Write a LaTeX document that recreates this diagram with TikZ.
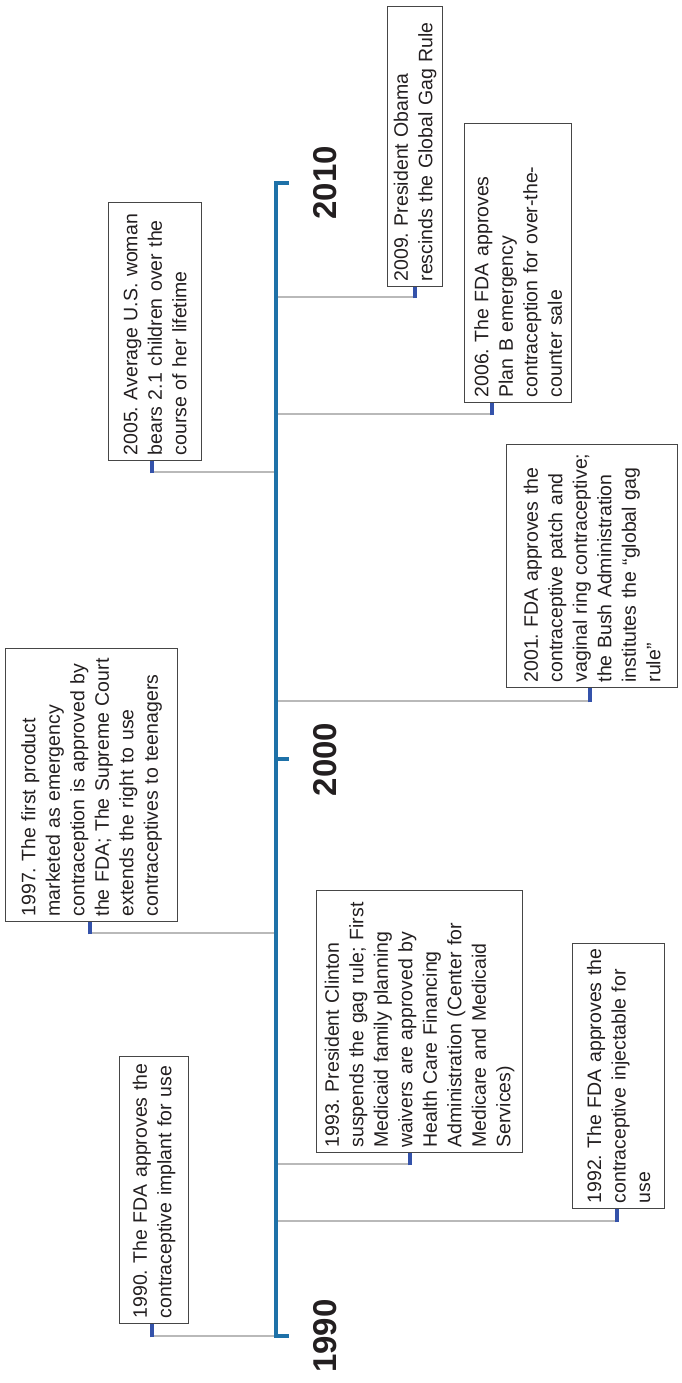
\documentclass[tikz,border=0pt]{standalone}
\usepackage{fontspec}
\setmainfont{Liberation Sans}
\usetikzlibrary{calc}

\definecolor{axisblue}{RGB}{30,113,168}
\definecolor{stemblue}{RGB}{52,82,170}
\definecolor{linkgray}{RGB}{185,185,185}
\definecolor{boxgray}{RGB}{70,70,70}
\definecolor{inkblack}{RGB}{35,31,32}

\tikzset{
	event/.style = {draw = boxgray, line width = 1.2pt, rotate = 90, anchor = north west,
		align = left, inner xsep = 5pt, inner ysep = 2pt, text = inkblack,
		font = \fontsize{19.5}{24.5}\selectfont\frenchspacing},
	link/.style = {draw = linkgray, line width = 2.6pt},
	stem/.style = {draw = stemblue, line width = 4.5pt},
	yearlabel/.style = {rotate = 90, text = inkblack, font = \fontsize{33}{33}\selectfont\bfseries}
}

\begin{document}
\begin{tikzpicture}[x = 1pt, y = 1pt]

	\useasboundingbox (0, 0) rectangle (681, 1383);

	% Event boxes
	
	\node [event, text width = 257pt, minimum height = 69pt] (e1990) at (119, 59)
		{1990. The FDA approves the\\contraceptive implant for use};
	\node [event, text width = 255pt, minimum height = 92pt] (e1992) at (572, 174)
		{1992. The FDA approves the\\contraceptive injectable for\\use};
	\node [event, text width = 252pt, minimum height = 206pt] (e1993) at (316, 230)
		{1993. President Clinton\\suspends the gag rule; First\\Medicaid family planning\\waivers are approved by\\Health Care Financing\\Administration (Center for\\Medicare and Medicaid\\Services)};
	\node [event, text width = 263pt, minimum height = 172pt] (e1997) at (5, 461)
		{1997. The first product\\marketed as emergency\\contraception is approved by\\the FDA; The Supreme Court\\extends the right to use\\contraceptives to teenagers};
	\node [event, text width = 233pt, minimum height = 171pt] (e2001) at (506, 695)
		{2001. FDA approves the\\contraceptive patch and\\vaginal ring contraceptive;\\the Bush Administration\\institutes the “global gag\\rule”};
	\node [event, text width = 248pt, minimum height = 93pt] (e2005) at (108, 922)
		{2005. Average U.S. woman\\bears 2.1 children over the\\course of her lifetime};
	\node [event, text width = 269pt, minimum height = 107pt] (e2006) at (464, 980)
		{2006. The FDA approves\\Plan B emergency\\contraception for over-the-\\counter sale};
	\node [event, text width = 270pt, minimum height = 55pt] (e2009) at (387, 1096)
		{2009. President Obama\\rescinds the Global Gag Rule};
	
	% Connectors from the axis to the boxes
	
	\foreach \ev/\fx/\ey in {1990/152/47, 1992/617/162, 1993/410/219, 1997/90/450,
			2001/590/682, 2005/152/911, 2006/492/969, 2009/415/1086} {
		\coordinate (ax\ev) at (276, \ey);
		\coordinate (ft\ev) at (\fx, \ey);
		\draw [link] (ax\ev) -- (ft\ev);
		\draw [stem] ($(ft\ev) + (0, -1.3)$) -- (ft\ev |- e\ev.west);
	}
	
	% Time axis
	
	\draw [axisblue, line width = 4pt] (289, 1200) -- (276, 1200) -- (276, 47) -- (289, 47);
	\draw [axisblue, line width = 4pt] (276, 623.5) -- (289, 623.5);
	
	\foreach \yr in {1990, 2000, 2010}
		\node [yearlabel] (y\yr) at (325, {47 + (\yr - 1990) * 57.65}) {\yr};

\end{tikzpicture}
\end{document}
